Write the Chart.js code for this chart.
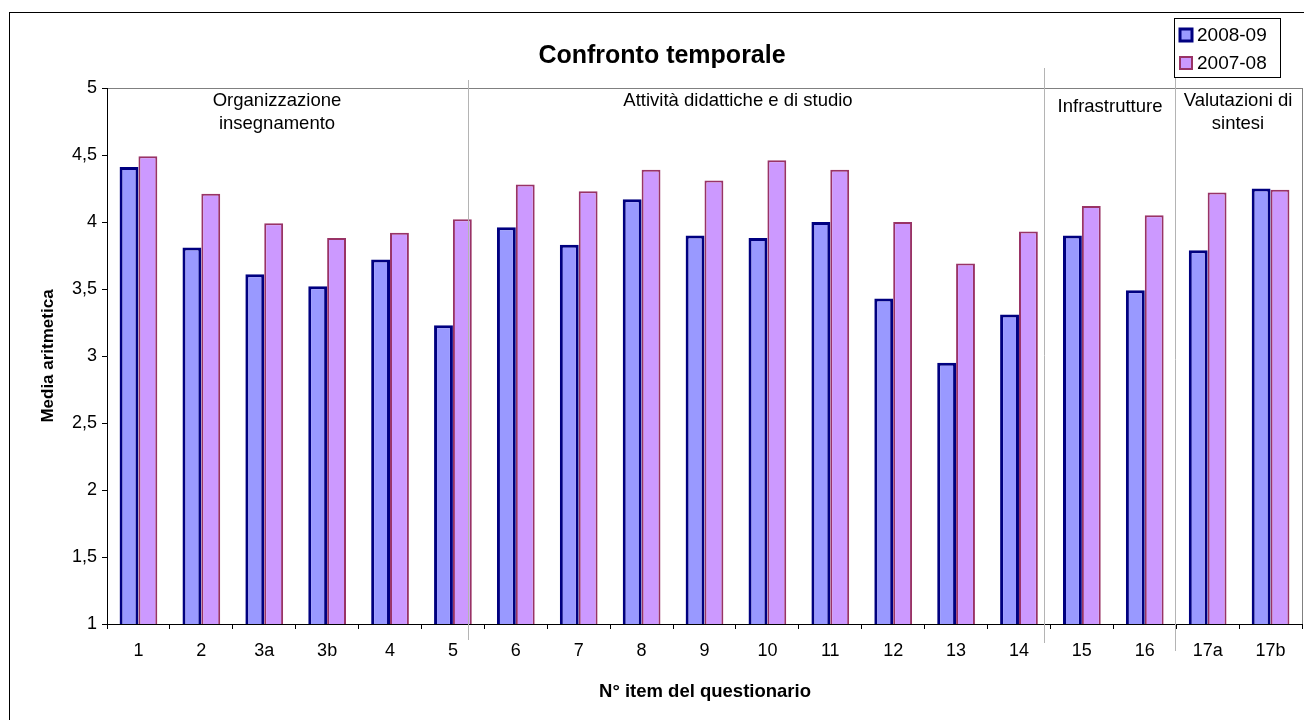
<!DOCTYPE html>
<html>
<head>
<meta charset="utf-8">
<script src="https://cdn.jsdelivr.net/npm/chart.js@4"></script>
<style>
  html, body { margin: 0; padding: 0; background: #fff; }
  #wrap { width: 1304px; height: 720px; position: relative; }
</style>
</head>
<body>
<div id="wrap"><canvas id="chart" width="1304" height="720"></canvas></div>
<script>
// Dati
const items = ['1', '2', '3a', '3b', '4', '5', '6', '7', '8', '9', '10', '11', '12', '13', '14', '15', '16', '17a', '17b'];
const media0809 = [4.41, 3.81, 3.61, 3.52, 3.72, 3.23, 3.96, 3.83, 4.17, 3.90, 3.88, 4.00, 3.43, 2.95, 3.31, 3.90, 3.49, 3.79, 4.25];
const media0708 = [4.49, 4.21, 3.99, 3.88, 3.92, 4.02, 4.28, 4.23, 4.39, 4.31, 4.46, 4.39, 4.00, 3.69, 3.93, 4.12, 4.05, 4.22, 4.24];
const gruppi = [['Organizzazione', 'insegnamento'], ['Attività didattiche e di studio'], ['Infrastrutture'], ['Valutazioni di', 'sintesi']];

const FONT = '"Liberation Sans", Arial, sans-serif';

// Disegna cornice, bordo area, separatori, etichette di gruppo, titoli e legenda
const decorazioni = {
    id: 'decorazioni',
    beforeDraw(chart) {
        const ctx = chart.ctx;
        const a = chart.chartArea;
        ctx.save();
        ctx.fillStyle = '#fff';
        ctx.fillRect(0, 0, chart.width, chart.height);
        ctx.strokeStyle = '#000';
        ctx.lineWidth = 1;
        ctx.strokeRect(9.5, 12.5, 1310, 730);
        // bordo grigio dell'area del grafico
        ctx.strokeStyle = '#808080';
        ctx.strokeRect(a.left + 0.5, a.top + 0.5, a.right - a.left, a.bottom - a.top);
        ctx.restore();
    },
    afterDraw(chart) {
        const ctx = chart.ctx;
        ctx.save();
        // separatori tra i gruppi
        ctx.strokeStyle = '#b4b4b4';
        ctx.lineWidth = 1;
        [[468, 80, 640], [1044, 68, 643], [1175, 68, 651]].forEach(s => {
            ctx.beginPath();
            ctx.moveTo(s[0] + 0.5, s[1]);
            ctx.lineTo(s[0] + 0.5, s[2]);
            ctx.stroke();
        });
        // etichette dei gruppi
        ctx.fillStyle = '#000';
        ctx.font = '18.5px ' + FONT;
        ctx.textAlign = 'center';
        ctx.textBaseline = 'middle';
        const pos = [[277, 101], [738, 101], [1110, 107], [1238, 101]];
        gruppi.forEach((righe, i) => {
            righe.forEach((t, j) => ctx.fillText(t, pos[i][0], pos[i][1] + j * 23));
        });
        // titolo
        ctx.font = 'bold 25px ' + FONT;
        ctx.fillText('Confronto temporale', 662, 56);
        // titoli assi
        ctx.font = 'bold 18.5px ' + FONT;
        ctx.fillText('N° item del questionario', 705, 692);
        ctx.font = 'bold 17px ' + FONT;
        ctx.translate(48, 356);
        ctx.rotate(-Math.PI / 2);
        ctx.fillText('Media aritmetica', 0, 0);
        ctx.setTransform(1, 0, 0, 1, 0, 0);
        // legenda
        ctx.fillStyle = '#fff';
        ctx.fillRect(1174, 18, 106, 59);
        ctx.strokeStyle = '#000';
        ctx.lineWidth = 1;
        ctx.strokeRect(1174.5, 18.5, 106, 59);
        chart.data.datasets.forEach((ds, i) => {
            const y = 35 + i * 28;
            ctx.fillStyle = ds.backgroundColor;
            ctx.fillRect(1179, y - 7, 14, 14);
            ctx.strokeStyle = ds.borderColor;
            ctx.lineWidth = i === 0 ? 3 : 2;
            ctx.strokeRect(1180, y - 6, 12, 12);
            ctx.fillStyle = '#000';
            ctx.font = '19px ' + FONT;
            ctx.textAlign = 'left';
            ctx.fillText(ds.label, 1197, y + 1);
        });
        ctx.restore();
    }
};

new Chart(document.getElementById('chart'), {
    type: 'bar',
    data: {
        labels: items,
        datasets: [
            {
                label: '2008-09',
                data: media0809,
                backgroundColor: '#9999FF',
                borderColor: '#000080',
                borderWidth: 3,
                borderSkipped: 'bottom'
            },
            {
                label: '2007-08',
                data: media0708,
                backgroundColor: '#CC99FF',
                borderColor: '#993366',
                borderWidth: 2,
                borderSkipped: 'bottom'
            }
        ]
    },
    options: {
        responsive: false,
        animation: false,
        layout: { padding: { left: 0, top: 88, right: 2, bottom: 0 } },
        categoryPercentage: 0.6,
        barPercentage: 1.0,
        plugins: {
            legend: { display: false },
            title: { display: false },
            tooltip: { enabled: false }
        },
        scales: {
            x: {
                grid: { display: true, drawOnChartArea: false, drawTicks: true, tickLength: 5, color: '#000', offset: true },
                border: { color: '#000', width: 1 },
                ticks: { color: '#000', font: { family: FONT, size: 18 }, padding: 11, maxRotation: 0, autoSkip: false },
                afterFit(scale) { scale.height = 96; }
            },
            y: {
                min: 1,
                max: 5,
                grid: { display: true, drawOnChartArea: false, drawTicks: true, tickLength: 5, color: '#000' },
                border: { color: '#000', width: 1 },
                ticks: {
                    stepSize: 0.5,
                    color: '#000',
                    font: { family: FONT, size: 18 },
                    padding: 5,
                    callback: v => String(v).replace('.', ',')
                },
                afterFit(scale) { scale.width = 107; }
            }
        }
    },
    plugins: [decorazioni]
});
</script>
</body>
</html>
